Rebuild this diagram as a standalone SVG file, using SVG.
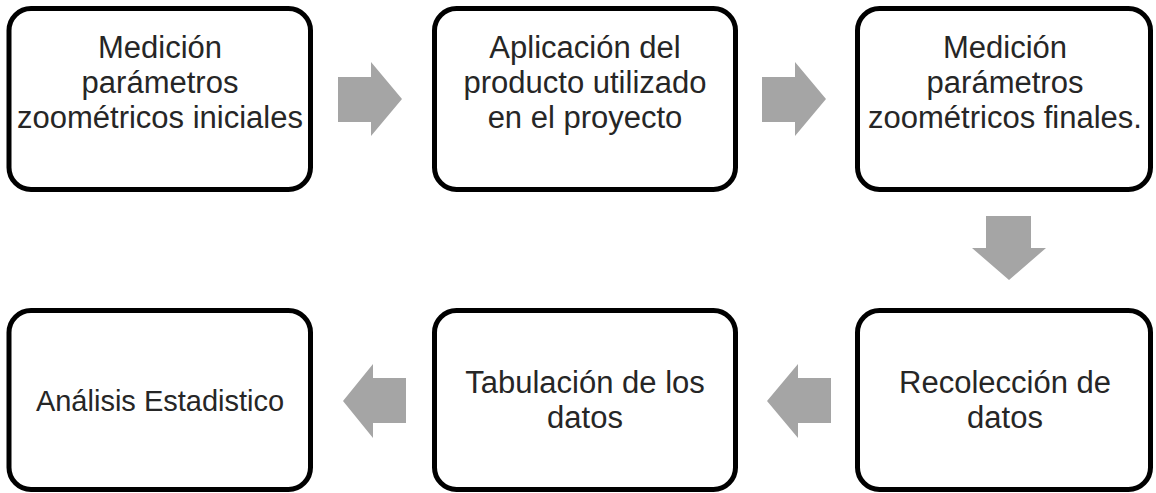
<svg xmlns="http://www.w3.org/2000/svg" width="1156" height="493" viewBox="0 0 1156 493">
<style>
.box{fill:#fff;stroke:#000;stroke-width:5}
.arr{fill:#a5a5a5}
.t{font-family:"Liberation Sans",Arial,sans-serif;font-size:31px;fill:#262626;text-anchor:middle}
.s{font-size:29px}
</style>
<rect width="1156" height="493" fill="#fff"/>
<g id="connectors">
<polygon class="arr" points="338,77 371,77 371,62 402,99 371,136 371,122 338,122"/>
<polygon class="arr" points="762,77 795,77 795,62 826,99 795,136 795,122 762,122"/>
<polygon class="arr" points="986,216 1031,216 1031,248 1046,248 1009,280 972,248 986,248"/>
<polygon class="arr" points="831,378 798,378 798,364 767,401 798,438 798,423 831,423"/>
<polygon class="arr" points="406,378 373,378 373,364 343,401 373,438 373,423 406,423"/>
</g>
<g id="n1"><rect class="box" x="9" y="8.5" width="301.5" height="181" rx="22"/>
<text class="t" x="160" y="58">Medición</text><text class="t" x="160" y="93">parámetros</text><text class="t" x="160" y="128">zoométricos iniciales</text></g>
<g id="n2"><rect class="box" x="434.5" y="8.5" width="301" height="181" rx="22"/>
<text class="t" x="585" y="58">Aplicación del</text><text class="t" x="585" y="93">producto utilizado</text><text class="t" x="585" y="128">en el proyecto</text></g>
<g id="n3"><rect class="box" x="857.5" y="8.5" width="293" height="181" rx="22"/>
<text class="t" x="1005" y="58">Medición</text><text class="t" x="1005" y="93">parámetros</text><text class="t" x="1005" y="128">zoométricos finales.</text></g>
<g id="n4"><rect class="box" x="857.5" y="310.5" width="293" height="179" rx="22"/>
<text class="t" x="1005" y="393">Recolección de</text><text class="t" x="1005" y="428">datos</text></g>
<g id="n5"><rect class="box" x="434.5" y="310.5" width="301" height="179" rx="22"/>
<text class="t" x="585" y="393">Tabulación de los</text><text class="t" x="585" y="428">datos</text></g>
<g id="n6"><rect class="box" x="9" y="310.5" width="301.5" height="179" rx="22"/>
<text class="t s" x="160" y="411">Análisis Estadistico</text></g>
</svg>
